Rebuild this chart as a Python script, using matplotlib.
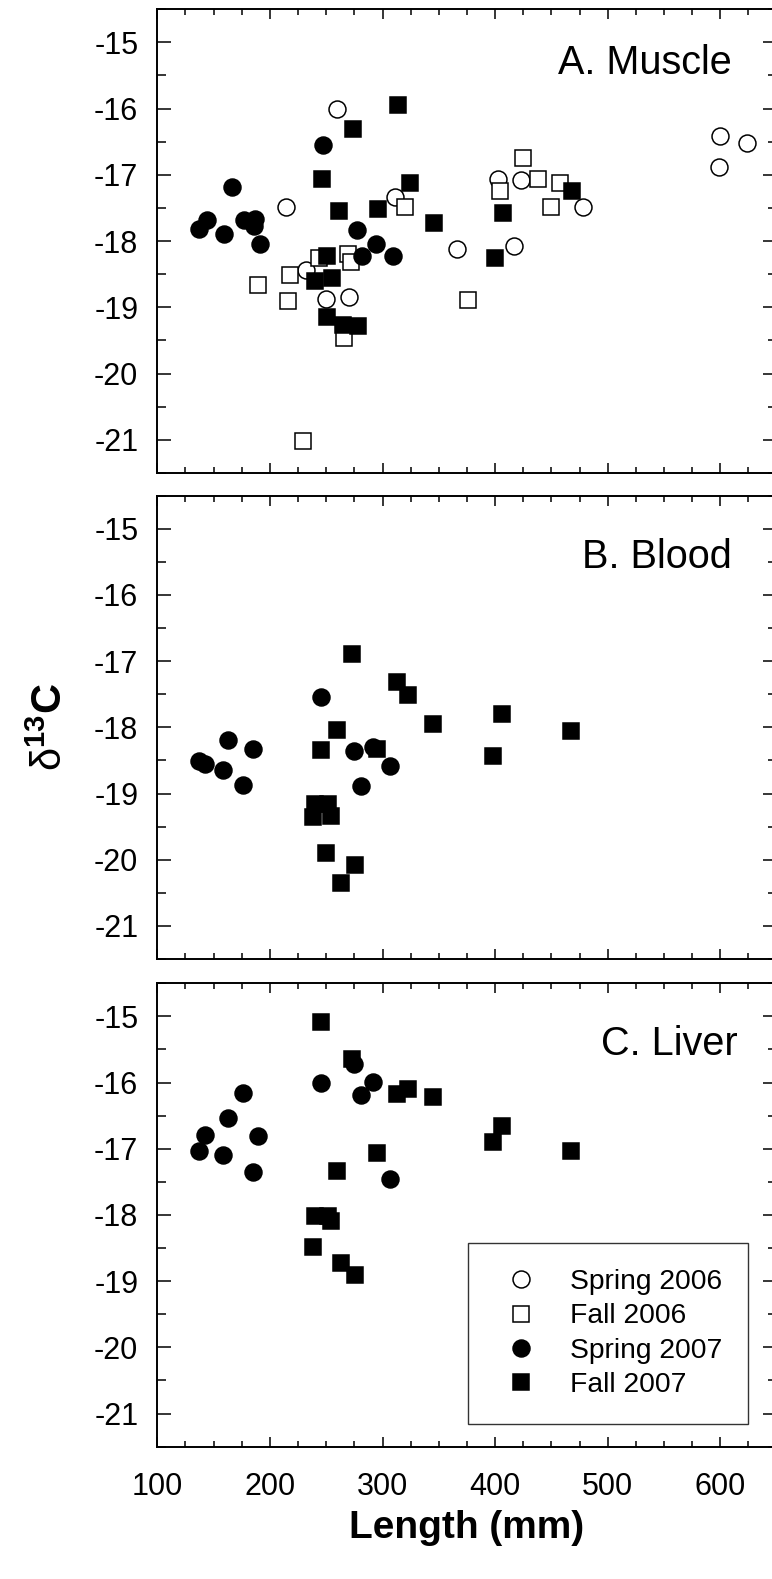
import matplotlib
matplotlib.use("Agg")
import matplotlib.pyplot as plt
from matplotlib.ticker import MultipleLocator

plt.rcParams['font.family'] = ['Liberation Sans', 'DejaVu Sans']
plt.rcParams['mathtext.fontset'] = 'custom'
plt.rcParams['mathtext.rm'] = 'Liberation Sans'
plt.rcParams['mathtext.bf'] = 'Liberation Sans:bold'
plt.rcParams['mathtext.it'] = 'Liberation Sans:italic'

# ---- data (length mm, delta13C) ----
# A. Muscle
spring06_x = [260, 214, 311, 232, 250, 270, 366, 403, 423, 417, 478, 600, 599, 624]
spring06_A = [-16.01, -17.48, -17.34, -18.43, -18.88, -18.85, -18.12, -17.06, -17.08, -18.07, -17.49, -16.41, -16.88, -16.52]

fall06_x = [189, 218, 216, 244, 269, 272, 266, 229, 320, 376, 404, 425, 438, 458, 450]
fall06_A = [-18.67, -18.51, -18.90, -18.26, -18.20, -18.32, -19.46, -21.01, -17.48, -18.89, -17.24, -16.75, -17.07, -17.13, -17.48]

spring07_A_x = [137, 144, 159, 166, 177, 187, 186, 191, 247, 277, 294, 282, 309]
spring07_A = [-17.82, -17.68, -17.90, -17.18, -17.68, -17.66, -17.78, -18.05, -16.55, -17.84, -18.05, -18.22, -18.23]

fall07_A_x = [314, 274, 246, 324, 261, 296, 346, 251, 240, 255, 251, 265, 278, 400, 407, 468]
fall07_A = [-15.94, -16.31, -17.06, -17.12, -17.54, -17.52, -17.73, -18.23, -18.61, -18.55, -19.14, -19.26, -19.28, -18.26, -17.57, -17.25]

# B. Blood
spring07_B_x = [137, 142, 163, 158, 185, 176, 245, 275, 292, 307, 281]
spring07_B = [-18.51, -18.55, -18.19, -18.65, -18.32, -18.87, -17.54, -18.36, -18.30, -18.59, -18.88]

fall07_B_x = [273, 313, 323, 345, 406, 467, 398, 260, 245, 295, 240, 252, 238, 254, 250, 276, 263]
fall07_B = [-16.89, -17.32, -17.51, -17.95, -17.80, -18.05, -18.43, -18.04, -18.34, -18.32, -19.16, -19.16, -19.36, -19.34, -19.90, -20.08, -20.35]

# C. Liver
spring07_C_x = [176, 163, 142, 137, 158, 189, 185, 245, 275, 292, 281, 307]
spring07_C = [-16.15, -16.54, -16.79, -17.04, -17.09, -16.80, -17.35, -16.01, -15.72, -15.99, -16.19, -17.45]

fall07_C_x = [245, 273, 313, 323, 345, 406, 398, 467, 295, 260, 240, 252, 254, 238, 263, 276]
fall07_C = [-15.08, -15.64, -16.17, -16.09, -16.22, -16.66, -16.90, -17.03, -17.07, -17.34, -18.02, -18.02, -18.09, -18.49, -18.72, -18.91]

season_labels = ["Spring 2006", "Fall 2006", "Spring 2007", "Fall 2007"]
panel_titles = ["A. Muscle", "B. Blood", "C. Liver"]
y_ticks = [-15, -16, -17, -18, -19, -20, -21]
x_ticks = [100, 200, 300, 400, 500, 600]

ms = 12.2
mew = 1.1
styles = {
    "Spring 2006": dict(marker="o", mfc="white", mec="black"),
    "Fall 2006": dict(marker="s", mfc="white", mec="black"),
    "Spring 2007": dict(marker="o", mfc="black", mec="black"),
    "Fall 2007": dict(marker="s", mfc="black", mec="black"),
}

fig = plt.figure(figsize=(7.72, 15.79), dpi=100)
left, width = 0.20376, 0.80220
ax1 = fig.add_axes([left, 0.70044, width, 0.29379])
ax2 = fig.add_axes([left, 0.39265, width, 0.29341])
ax3 = fig.add_axes([left, 0.08379, width, 0.29348])


def pts(ax, x, y, name):
    return ax.plot(x, y, ls="none", ms=ms, mew=mew, label=name, **styles[name])[0]


h1 = pts(ax1, spring06_x, spring06_A, "Spring 2006")
h2 = pts(ax1, fall06_x, fall06_A, "Fall 2006")
h3 = pts(ax1, spring07_A_x, spring07_A, "Spring 2007")
h4 = pts(ax1, fall07_A_x, fall07_A, "Fall 2007")

pts(ax2, spring07_B_x, spring07_B, "Spring 2007")
pts(ax2, fall07_B_x, fall07_B, "Fall 2007")

pts(ax3, spring07_C_x, spring07_C, "Spring 2007")
pts(ax3, fall07_C_x, fall07_C, "Fall 2007")

title_pos = [(610, -15.48), (610, -15.59), (615.5, -15.59)]
for ax, title, (tx, ty) in zip([ax1, ax2, ax3], panel_titles, title_pos):
    ax.set_xlim(100, 650)
    ax.set_ylim(-21.5, -14.5)
    ax.set_yticks(y_ticks)
    ax.set_yticklabels([str(t) for t in y_ticks])
    ax.set_xticks(x_ticks)
    ax.xaxis.set_minor_locator(MultipleLocator(25))
    ax.yaxis.set_minor_locator(MultipleLocator(0.5))
    ax.tick_params(which="both", direction="in", top=True, right=True, width=1.1, labelsize=22)
    ax.tick_params(axis="y", which="major", length=10, pad=13.7)
    ax.tick_params(axis="y", which="minor", length=6.2)
    ax.tick_params(axis="x", which="major", length=7.2, pad=18)
    ax.tick_params(axis="x", which="minor", length=4.3)
    for sp in ax.spines.values():
        sp.set_linewidth(1.4)
    ax.text(tx, ty, title, ha="right", va="baseline", fontsize=28.5)

ax1.tick_params(axis="x", labelbottom=False)
ax2.tick_params(axis="x", labelbottom=False)
ax3.set_xticklabels([str(t) for t in x_ticks])

leg = ax3.legend(handles=[h1, h2, h3, h4], labels=season_labels,
                 loc="lower left", bbox_to_anchor=(0.502, 0.049),
                 fontsize=20.3, frameon=True, fancybox=False, shadow=False,
                 borderpad=0.93, handlelength=1.9, handletextpad=0.78,
                 labelspacing=0.29, borderaxespad=0, numpoints=1)
leg.get_frame().set_edgecolor("black")
leg.get_frame().set_linewidth(1.0)

fig.text(51 / 772, 1 - 727 / 1579, r'$\mathrm{\delta}^{\mathbf{13}}\mathbf{C}$', rotation=90,
         ha="center", va="center", fontsize=30)
fig.text(466.5 / 772, 1 - 1538 / 1579, "Length (mm)", ha="center", va="baseline",
         fontsize=28, fontweight="bold")

fig.savefig("out.png", dpi=100)
